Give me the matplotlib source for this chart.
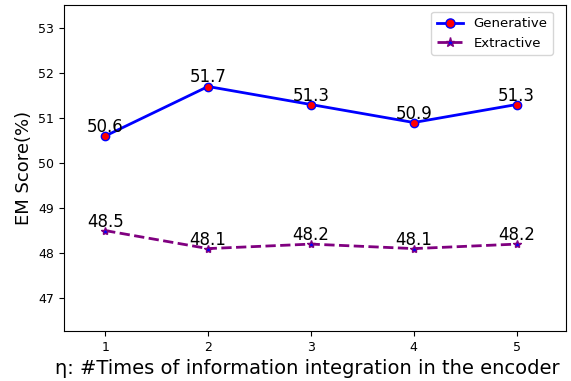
import matplotlib
matplotlib.use("Agg")
from matplotlib import pyplot as plt

times = [1, 2, 3, 4, 5]
generative = [50.6, 51.7, 51.3, 50.9, 51.3]
extractive = [48.5, 48.1, 48.2, 48.1, 48.2]

fig = plt.figure(figsize=(5.71, 3.81), dpi=100)
ax = fig.add_axes([64 / 571, 50 / 381, 502 / 571, 326 / 381])

ax.plot(times, generative, color="blue", linewidth=2, marker="o",
        markerfacecolor="red", markeredgecolor="blue", markersize=6, label="Generative")
ax.plot(times, extractive, color="purple", linewidth=2, linestyle="--", marker="*",
        markerfacecolor="blue", markeredgecolor="purple", markersize=6, label="Extractive")

# value labels above each point
for x, y in zip(times, generative):
    ax.text(x, y, str(y), ha="center", va="bottom", fontsize=12)
for x, y in zip(times, extractive):
    ax.text(x, y, str(y), ha="center", va="bottom", fontsize=12)

ax.set_xlim(0.6, 5.48)
ax.set_ylim(46.27, 53.51)
ax.set_xticks(times)
ax.set_yticks([47, 48, 49, 50, 51, 52, 53])
ax.tick_params(labelsize=9)
ax.set_ylabel("EM Score(%)", fontsize=13)
ax.set_xlabel("η: #Times of information integration in the encoder", fontsize=14)
ax.xaxis.set_label_coords(0.484, -0.085)
ax.legend(loc="upper right", fontsize=9.5, bbox_to_anchor=(0.974, 0.979),
          borderaxespad=0, markerscale=1.1)

fig.savefig("out.png", dpi=100)
